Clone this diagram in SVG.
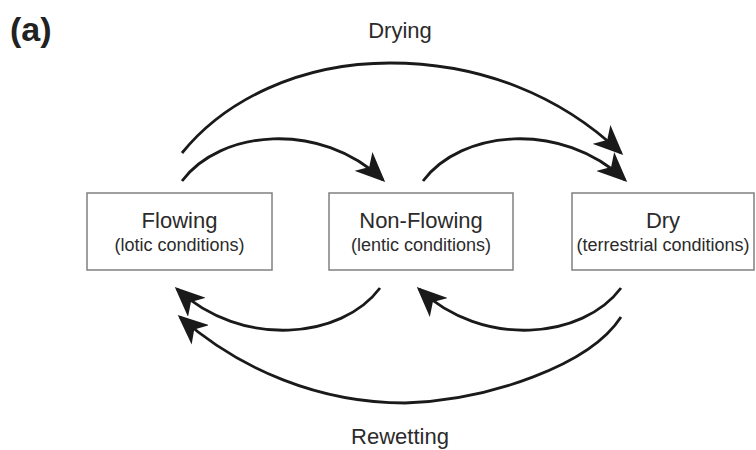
<svg xmlns="http://www.w3.org/2000/svg" width="756" height="450" viewBox="0 0 756 450">
  <defs>
    <marker id="arrow" viewBox="0 0 30 26" refX="27" refY="13" markerWidth="30" markerHeight="26" markerUnits="userSpaceOnUse" orient="auto">
      <path d="M0,0 L30,13 L0,26 L8,13 z" fill="#1a1a1a"/>
    </marker>
    <style>
      .box { fill: #ffffff; stroke: #808080; stroke-width: 1.5; }
      .title { font-family: "Liberation Sans", Arial, sans-serif; font-size: 22px; fill: #2b2b2b; text-anchor: middle; }
      .sub { font-family: "Liberation Sans", Arial, sans-serif; font-size: 18px; fill: #2b2b2b; text-anchor: middle; }
      .label { font-family: "Liberation Sans", Arial, sans-serif; font-size: 22px; fill: #2b2b2b; text-anchor: middle; }
      .panel { font-family: "Liberation Sans", Arial, sans-serif; font-size: 34px; font-weight: bold; fill: #222222; }
      .conn { fill: none; stroke: #1a1a1a; stroke-width: 2.8; marker-end: url(#arrow); }
    </style>
  </defs>
  <rect width="756" height="450" fill="#ffffff"/>

  <text class="panel" x="10" y="41">(a)</text>

  <g id="flowing">
    <rect class="box" x="87" y="193" width="185" height="77"/>
    <text class="title" x="179.5" y="228">Flowing</text>
    <text class="sub" x="179.5" y="251">(lotic conditions)</text>
  </g>
  <g id="non-flowing">
    <rect class="box" x="329" y="193" width="184" height="77"/>
    <text class="title" x="421" y="228">Non-Flowing</text>
    <text class="sub" x="421" y="251">(lentic conditions)</text>
  </g>
  <g id="dry">
    <rect class="box" x="572" y="193" width="182" height="77"/>
    <text class="title" x="663" y="228">Dry</text>
    <text class="sub" x="663" y="251">(terrestrial conditions)</text>
  </g>

  <g id="connectors">
    <path class="conn" d="M182,153 C225,100 300,63 390,63 C480,63 560,95 621,153"/>
    <path class="conn" d="M182,181 C220,130 320,120 383,180"/>
    <path class="conn" d="M423,181 C461,130 561,120 625,180"/>
    <path class="conn" d="M380,288 C342,339 242,349 177,289"/>
    <path class="conn" d="M621,288 C583,339 483,349 419,289"/>
    <path class="conn" d="M621,317 C590,365 490,400 405,403 C320,403 240,370 180,317"/>
    <text class="label" x="400" y="38">Drying</text>
    <text class="label" x="400" y="444">Rewetting</text>
  </g>
</svg>
